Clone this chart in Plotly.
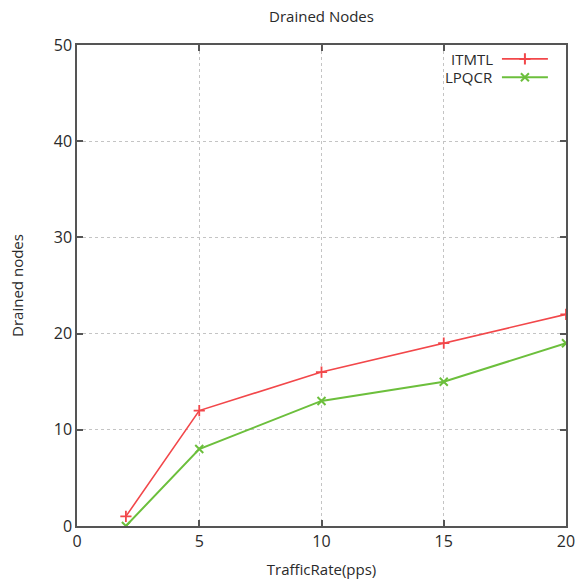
import plotly.graph_objects as go

traffic_rate = [2, 5, 10, 15, 20]
itmtl = [1, 12, 16, 19, 22]
lpqcr = [0, 8, 13, 15, 19]
series_names = ["ITMTL", "LPQCR"]
x_ticks = [0, 5, 10, 15, 20]
y_ticks = [0, 10, 20, 30, 40, 50]

red = "#f2474a"
green = "#6cbf3c"
font_family = "Open Sans, DejaVu Sans, sans-serif"
text_col = "#2a2a2a"

fig = go.Figure()
fig.add_trace(go.Scatter(
    x=traffic_rate, y=itmtl, mode="lines+markers", name=series_names[0],
    line=dict(color=red, width=1.6),
    marker=dict(symbol="cross-thin", size=8, line=dict(color=red, width=1.8)),
    showlegend=False))
fig.add_trace(go.Scatter(
    x=traffic_rate, y=lpqcr, mode="lines+markers", name=series_names[1],
    line=dict(color=green, width=2),
    marker=dict(symbol="x-thin", size=8, line=dict(color=green, width=2)),
    showlegend=False))

# gnuplot-style legend (text left, sample right) on an overlay axis
leg_y = [0.971, 0.933]
for name, col, sym, ly in [(series_names[0], red, "cross-thin", leg_y[0]),
                           (series_names[1], green, "x-thin", leg_y[1])]:
    fig.add_trace(go.Scatter(
        x=[0.869, 0.963], y=[ly, ly], xaxis="x2", yaxis="y2", mode="lines",
        line=dict(color=col, width=1.8), showlegend=False, hoverinfo="skip"))
    fig.add_trace(go.Scatter(
        x=[0.916], y=[ly], xaxis="x2", yaxis="y2", mode="markers",
        marker=dict(symbol=sym, size=8, line=dict(color=col, width=2)),
        showlegend=False, hoverinfo="skip"))
    fig.add_annotation(x=0.855, y=ly, xref="paper", yref="paper", text=name,
                       showarrow=False, xanchor="right", yanchor="middle",
                       font=dict(family=font_family, size=15, color=text_col))

axis_common = dict(
    showline=True, linecolor="#555", linewidth=1.5, mirror="allticks",
    ticks="inside", ticklen=6, tickcolor="#555", tickwidth=1.5,
    showgrid=True, gridcolor="#c4c4c4", griddash="dot", gridwidth=1,
    zeroline=False, automargin=False,
    tickfont=dict(family=font_family, size=16, color=text_col),
)

fig.update_layout(
    width=577, height=581,
    margin=dict(l=77, r=11, t=45, b=55),
    paper_bgcolor="white", plot_bgcolor="white",
    title=dict(text="Drained Nodes", x=0.5, xref="paper", xanchor="center",
               y=0.981, yref="container", yanchor="top",
               font=dict(family=font_family, size=15, color=text_col)),
    xaxis=dict(range=[0, 20], tickvals=x_ticks, **axis_common,
               title=dict(text="TrafficRate(pps)", standoff=14,
                          font=dict(family=font_family, size=15, color=text_col))),
    yaxis=dict(range=[0, 50], tickvals=y_ticks, **axis_common,
               title=dict(text="Drained nodes", standoff=27,
                          font=dict(family=font_family, size=15, color=text_col))),
    xaxis2=dict(overlaying="x", range=[0, 1], visible=False, anchor="y2"),
    yaxis2=dict(overlaying="y", range=[0, 1], visible=False, anchor="x2"),
    showlegend=False,
)

fig.write_html(
    "out.html",
    config={"displayModeBar": False},
    post_script="document.body.style.margin='0';document.body.style.padding='0';"
                "document.documentElement.style.overflow='hidden';",
)
